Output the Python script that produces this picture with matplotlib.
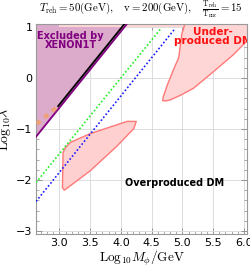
import matplotlib
matplotlib.use("Agg")
import matplotlib.pyplot as plt
import numpy as np
from matplotlib.ticker import MultipleLocator

plt.rcParams['mathtext.fontset'] = 'cm'

# ---- data ----
xenon_x = [2.62, 4.09]
xenon_y = [-1.15, 1.05]
xenon_black_x = [2.98, 4.07]
xenon_black_y = [-0.55, 1.08]
orange_x = [2.63, 2.98]
orange_y = [-0.90, -0.55]
green_x = [2.62, 4.65]
green_y = [-2.05, 0.97]
blue_x = [2.62, 4.88]
blue_y = [-2.42, 0.97]

lower_x = [3.10, 3.06, 3.05, 3.08, 3.50, 3.94, 4.21, 4.25, 4.10, 3.50, 3.18, 3.10]
lower_y = [-1.36, -1.46, -2.15, -2.20, -1.82, -1.33, -0.99, -0.85, -0.85, -1.09, -1.26, -1.36]

upper_x = [5.05, 4.99, 4.94, 4.86, 4.80, 4.75, 4.72, 4.69, 4.68, 4.72, 4.80, 4.98, 5.18, 5.45, 5.83, 6.05, 6.10, 6.10]
upper_y = [1.10, 0.86, 0.40, 0.18, 0.00, -0.15, -0.26, -0.36, -0.44, -0.45, -0.43, -0.33, -0.20, 0.07, 0.46, 0.73, 0.78, 1.10]

strip_x = [3.0, 6.1]
strip_lo = 1.0

xticks = [3.0, 3.5, 4.0, 4.5, 5.0, 5.5, 6.0]
yticks = [-3, -2, -1, 0, 1]

fig = plt.figure(figsize=(2.5, 2.7), dpi=100)
ax = fig.add_axes([0.144, 0.133, 0.844, 0.778])
xlim = (2.62, 6.05)
ylim = (-3.06, 1.06)

# excluded region
ax.fill_between([xlim[0], xenon_x[1], xlim[1]],
                [xenon_y[0], xenon_y[1], xenon_y[1]], ylim[1],
                color='#dcaacb', lw=0, zorder=1)
# top pink strip
ax.fill_between(strip_x, strip_lo, ylim[1], color='#ffd6d6', lw=0, zorder=1.1)

ax.fill(lower_x, lower_y, facecolor='#ffd0d0', edgecolor='#ff7878', lw=1.0, zorder=2)
ax.fill(upper_x, upper_y, facecolor='#ffd6d6', edgecolor='#ff7878', lw=1.0, zorder=2)

ax.plot(xenon_x, xenon_y, color='#800080', lw=1.3, zorder=3)
ax.plot(xenon_black_x, xenon_black_y, color='black', lw=1.3, zorder=3.1)
ax.plot(orange_x, orange_y, color='#f0a070', lw=3.0, ls=(0, (1.2, 1.2)), alpha=0.9, zorder=3)
ax.plot(green_x, green_y, color='#22ee22', lw=1.2, ls=(0, (1, 1.3)), zorder=3)
ax.plot(blue_x, blue_y, color='#1a1aff', lw=1.2, ls=(0, (1, 1.3)), zorder=3)

ax.text(3.18, 0.74, 'Excluded by\nXENON1T', color='#800080', fontsize=7, fontweight='bold',
        ha='center', va='center', linespacing=0.9, zorder=4)
ax.text(5.50, 0.82, 'Under-\nproduced DM', color='#ff1010', fontsize=7.5, fontweight='bold',
        ha='center', va='center', linespacing=0.9, zorder=4, clip_on=True)
ax.text(4.88, -2.06, 'Overproduced DM', color='black', fontsize=7, fontweight='bold',
        ha='center', va='center', zorder=4)

ax.set_xlim(*xlim)
ax.set_ylim(*ylim)
ax.set_xticks(xticks)
ax.set_xticklabels([f'{v:.1f}' for v in xticks])
ax.set_yticks(yticks)
ax.set_yticklabels(['\u22123', '\u22122', '\u22121', '0', '1'])
ax.xaxis.set_minor_locator(MultipleLocator(0.1))
ax.yaxis.set_minor_locator(MultipleLocator(0.2))
ax.tick_params(which='both', direction='in', top=True, right=True, labelsize=8, color='#888888')
ax.tick_params(which='major', length=4, width=0.6, pad=2.5)
ax.tick_params(which='minor', length=2, width=0.5)
ax.grid(True, which='major', color='#dddddd', lw=0.7, zorder=0)
ax.set_axisbelow(True)
for s in ax.spines.values():
    s.set_color('#999999')
    s.set_linewidth(0.8)

ax.set_xlabel(r'$\mathrm{Log}_{10}M_\phi/\mathrm{GeV}$', fontsize=9.5, labelpad=1)
ax.set_ylabel(r'$\mathrm{Log}_{10}\lambda$', fontsize=10, labelpad=2)
fig.text(0.565, 0.962, r'$T_{\rm reh}=50(\rm GeV),\quad v=200(\rm GeV),\quad \frac{T_{\rm reh}}{T_{\rm nuc}}=15$',
         ha='center', va='center', fontsize=7.8)

fig.savefig('out.png', dpi=100)
